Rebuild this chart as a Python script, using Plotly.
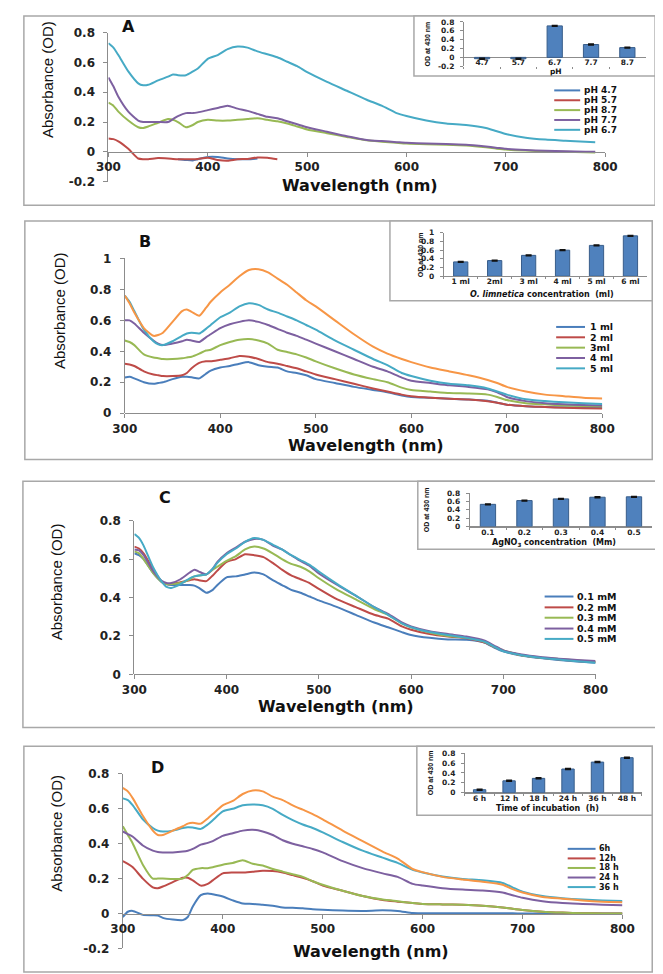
import plotly.graph_objects as go

W, H = 663, 974


def px(x):
    return x / W


def py(y):
    return 1 - y / H


# ---------------- data ----------------
WL = [300, 305, 310, 320, 330, 335, 340, 350, 360, 365, 370, 378, 385, 390, 400, 410, 420, 430, 440, 450,
      460, 470, 480, 490, 500, 520, 540, 560, 575, 590, 600, 620, 640, 660, 680, 690, 700, 720, 740, 760,
      780, 800]
WL_A = [300, 305, 310, 320, 330, 335, 340, 350, 360, 365, 370, 378, 385, 390, 400, 410, 420, 430, 440, 450,
        460, 470, 480, 490, 500, 520, 540, 560, 575, 590, 600, 620, 640, 660, 680, 690, 700, 720, 740, 760,
        780, 790]
N = None

# Panel A (pH)
A_PH47 = [N, N, N, N, N, N, N, N, N, N, -.05, -.055, -.058, -.05, -.035, -.035, -.045, -.05, -.05, -.045,
          N, N, N, N, N, N, N, N, N, N, N, N, N, N, N, N, N, N, N, N, N, N]
A_PH57 = [.09, .085, .07, .02, -.045, -.05, -.05, -.042, -.045, -.048, -.05, -.05, -.05, -.048, -.04, -.055,
          -.06, -.05, -.048, -.038, -.04, -.05, N, N, N, N, N, N, N, N, N, N, N, N, N, N, N, N, N, N, N, N]
A_PH87 = [.33, .31, .27, .21, .165, .16, .17, .195, .22, .215, .20, .165, .18, .20, .215, .21, .21, .215, .22,
          .225, .215, .205, .19, .17, .15, .125, .10, .077, .068, .06, .055, .05, .047, .042, .03, .022, .015,
          .008, .003, 0, -.003, -.005]
A_PH77 = [.50, .44, .37, .27, .21, .20, .20, .20, .20, .22, .24, .26, .26, .265, .28, .295, .31, .29, .275,
          .255, .235, .225, .205, .185, .165, .135, .105, .08, .072, .065, .06, .055, .052, .047, .035, .028,
          .02, .012, .007, .004, .001, 0]
A_PH67 = [.73, .70, .65, .54, .46, .447, .45, .48, .505, .52, .515, .515, .54, .56, .625, .65, .69, .707, .70,
          .675, .655, .635, .605, .575, .535, .47, .41, .35, .31, .26, .24, .21, .19, .18, .16, .14, .12,
          .095, .082, .075, .068, .065]

# Panel B (O. limnetica volume)
B_1ML = [.23, .235, .225, .20, .19, .195, .20, .22, .235, .235, .232, .225, .255, .275, .295, .305, .32, .33,
         .31, .30, .295, .27, .26, .245, .22, .195, .17, .15, .135, .115, .105, .10, .093, .088, .08, .068,
         .055, .045, .04, .038, .036, .035]
B_2ML = [.32, .315, .305, .27, .25, .245, .24, .24, .245, .26, .29, .325, .335, .335, .345, .355, .37, .365,
         .35, .33, .32, .305, .29, .27, .25, .22, .19, .16, .14, .12, .11, .10, .093, .088, .077, .068, .055,
         .045, .04, .035, .032, .03]
B_3ML = [.47, .46, .44, .38, .36, .355, .35, .35, .355, .36, .365, .385, .405, .41, .44, .46, .475, .48, .47,
         .45, .41, .395, .38, .36, .335, .29, .25, .22, .20, .165, .15, .14, .13, .127, .12, .105, .085, .065,
         .057, .05, .047, .045]
B_4ML = [.60, .60, .58, .52, .47, .45, .44, .45, .465, .475, .47, .46, .49, .51, .55, .575, .59, .60, .59,
         .57, .545, .52, .50, .475, .45, .40, .35, .30, .27, .23, .21, .195, .18, .17, .155, .135, .105,
         .078, .065, .058, .053, .05]
B_5ML = [.76, .72, .66, .54, .465, .445, .44, .465, .50, .515, .52, .515, .545, .57, .62, .65, .69, .71, .70,
         .67, .65, .625, .60, .57, .54, .47, .41, .35, .31, .26, .24, .21, .19, .18, .16, .14, .12, .09, .078,
         .07, .065, .06]
B_6ML = [.76, .71, .65, .55, .50, .505, .52, .59, .66, .67, .655, .63, .68, .72, .78, .83, .885, .925, .93,
         .91, .87, .83, .78, .73, .69, .60, .51, .43, .385, .35, .33, .295, .27, .245, .215, .195, .17, .14,
         .12, .11, .10, .095]

# Panel C (AgNO3)
C_01 = [.63, .62, .60, .53, .48, .47, .465, .465, .465, .462, .45, .425, .44, .465, .505, .51, .52, .53, .52,
        .49, .465, .44, .425, .405, .385, .35, .31, .27, .245, .22, .205, .19, .182, .18, .165, .14, .12,
        .097, .085, .075, .067, .06]
C_02 = [.665, .655, .63, .55, .48, .47, .47, .48, .49, .495, .49, .485, .515, .54, .585, .60, .625, .62, .61,
        .58, .545, .515, .495, .475, .445, .39, .35, .31, .29, .25, .232, .21, .197, .188, .165, .143, .123,
        .10, .087, .078, .07, .065]
C_03 = [.64, .63, .60, .53, .48, .47, .47, .475, .495, .51, .515, .52, .545, .56, .59, .615, .65, .665, .655,
        .63, .60, .575, .56, .535, .50, .44, .39, .34, .31, .265, .245, .218, .20, .19, .168, .145, .125,
        .10, .088, .08, .072, .066]
C_04 = [.65, .645, .62, .54, .485, .475, .475, .495, .53, .545, .535, .52, .55, .585, .63, .66, .69, .705, .70,
        .67, .65, .62, .59, .565, .525, .465, .41, .35, .315, .27, .25, .225, .21, .197, .175, .15, .125,
        .103, .09, .082, .075, .07]
C_05 = [.73, .71, .67, .56, .48, .455, .45, .47, .50, .51, .515, .52, .55, .58, .625, .655, .69, .71, .70,
        .675, .65, .62, .595, .57, .535, .47, .41, .35, .31, .265, .245, .22, .205, .19, .17, .145, .12, .10,
        .087, .077, .068, .06]

# Panel D (incubation time)
D_6H = [-.02, .01, .015, -.008, -.01, -.012, -.025, -.035, -.038, -.02, .04, .105, .115, .11, .097, .075,
        .057, .055, .05, .045, .035, .033, .03, .025, .022, .017, .015, .018, .015, .003, .002, .002, .002,
        .001, .001, .001, 0, 0, 0, 0, 0, 0]
D_12H = [.30, .285, .265, .20, .15, .145, .155, .18, .205, .205, .19, .16, .17, .19, .23, .235, .235, .24,
         .245, .243, .235, .22, .205, .185, .16, .13, .10, .077, .068, .06, .055, .052, .05, .045, .035,
         .027, .02, .01, .005, .002, 0, 0]
D_18H = [.50, .45, .40, .28, .20, .20, .20, .198, .20, .22, .25, .26, .26, .265, .28, .29, .305, .285, .275,
         .255, .24, .225, .21, .185, .165, .13, .10, .08, .07, .06, .055, .052, .05, .045, .035, .027, .02,
         .01, .005, .002, 0, 0]
D_24H = [.47, .455, .44, .39, .36, .352, .35, .35, .355, .36, .37, .395, .405, .415, .445, .46, .475, .48,
         .47, .45, .42, .40, .385, .37, .35, .30, .26, .23, .21, .17, .16, .145, .137, .132, .12, .105, .09,
         .07, .06, .055, .05, .047]
D_36H = [.66, .65, .62, .54, .49, .475, .47, .475, .49, .495, .493, .485, .51, .535, .585, .60, .62, .625,
         .62, .60, .565, .535, .51, .49, .465, .41, .36, .32, .29, .25, .235, .212, .198, .19, .175, .15,
         .125, .10, .088, .08, .075, .072]
D_48H = [.72, .70, .66, .56, .475, .45, .45, .475, .50, .515, .52, .515, .545, .57, .62, .645, .685, .705,
         .70, .67, .65, .62, .595, .57, .54, .475, .415, .355, .315, .255, .237, .21, .195, .182, .165, .14,
         .12, .095, .085, .075, .068, .065]

# Inset bar charts: OD at 430 nm
INS_A_CAT = ["4.7", "5.7", "6.7", "7.7", "8.7"]
INS_A_VAL = [-0.03, -0.03, 0.71, 0.29, 0.22]
INS_B_CAT = ["1 ml", "2ml", "3 ml", "4 ml", "5 ml", "6 ml"]
INS_B_VAL = [0.33, 0.36, 0.48, 0.60, 0.71, 0.93]
INS_C_CAT = ["0.1", "0.2", "0.3", "0.4", "0.5"]
INS_C_VAL = [0.53, 0.62, 0.66, 0.70, 0.71]
INS_D_CAT = ["6 h", "12 h", "18 h", "24 h", "36 h", "48 h"]
INS_D_VAL = [0.06, 0.24, 0.29, 0.48, 0.62, 0.71]
INS_ERR = 0.01

X_TICKS = [300, 400, 500, 600, 700, 800]

# ---------------- style ----------------
BLUE, RED, GREEN, PURPLE, CYAN, ORANGE = "#4A7EBB", "#BE4B48", "#98B954", "#7D60A0", "#46AAC5", "#F79646"
AXC = "#8C8C8C"
BOXC = "#A8A8A8"
TXT = "#222222"
BOLD = "DejaVu Sans"
NARROW = "Liberation Sans Narrow, Arial Narrow, Liberation Sans, sans-serif"

fig = go.Figure()

panels = [
    dict(n=1, wl=WL_A, series=[("pH 4.7", A_PH47, BLUE), ("pH 5.7", A_PH57, RED), ("pH 8.7", A_PH87, GREEN),
                               ("pH 7.7", A_PH77, PURPLE), ("pH 6.7", A_PH67, CYAN)],
         legend_n=5, xd=(91, 608), yd=(18, 169), yr=(-0.2, 0.8), zero=139,
         yt=[-0.2, 0, 0.2, 0.4, 0.6, 0.8], ytt=["-0.2", "0", "0.2", "0.4", "0.6", "0.8"],
         box=(3, 1, 660, 193), letter=("A", 112, 12), xt=(353, 173), ytl=(27, 65),
         leg=(555, 582, 584, [76.5, 86.5, 96.5, 106.5, 116.5], 9)),
    dict(n=2, wl=WL, series=[("1 ml", B_1ML, BLUE), ("2 ml", B_2ML, RED), ("3ml", B_3ML, GREEN),
                             ("4 ml", B_4ML, PURPLE), ("5 ml", B_5ML, CYAN), ("6 ml", B_6ML, ORANGE)],
         legend_n=5, xd=(108, 605), yd=(247, 404), yr=(0, 1), zero=404,
         yt=[0, 0.2, 0.4, 0.6, 0.8, 1], ytt=["0", "0.2", "0.4", "0.6", "0.8", "1"],
         box=(4, 209, 657, 451), letter=("B", 129, 230), xt=(359, 437), ytl=(40, 300),
         leg=(557, 587, 590, [316.5, 327, 337.5, 348, 358.5], 9.5)),
    dict(n=3, wl=WL, series=[("0.1 mM", C_01, BLUE), ("0.2 mM", C_02, RED), ("0.3 mM", C_03, GREEN),
                             ("0.4 mM", C_04, PURPLE), ("0.5 mM", C_05, CYAN)],
         legend_n=5, xd=(118, 598), yd=(513, 669), yr=(0, 0.8), zero=669,
         yt=[0, 0.2, 0.4, 0.6, 0.8], ytt=["0", "0.2", "0.4", "0.6", "0.8"],
         box=(2, 473, 661, 723), letter=("C", 150, 490), xt=(328, 702), ytl=(37, 575),
         leg=(545, 575, 577, [590, 601, 611.5, 622.5, 633], 9.5)),
    dict(n=4, wl=WL, series=[("6h", D_6H, BLUE), ("12h", D_12H, RED), ("18 h", D_18H, GREEN),
                             ("24 h", D_24H, PURPLE), ("36 h", D_36H, CYAN), ("48 h", D_48H, ORANGE)],
         legend_n=5, xd=(106, 626), yd=(770, 947), yr=(-0.2, 0.8), zero=912,
         yt=[-0.2, 0, 0.2, 0.4, 0.6, 0.8], ytt=["-0.2", "0", "0.2", "0.4", "0.6", "0.8"],
         box=(3, 742, 657, 971), letter=("D", 142, 763), xt=(364, 950), ytl=(36, 830),
         leg=(569, 598, 600, [846, 855.7, 865.4, 875.1, 884.8], 8)),
]

insets = [
    dict(n=5, cats=INS_A_CAT, vals=INS_A_VAL, xd=(461, 650), yd=(7, 52), yr=(-0.2, 0.8),
         yt=[-0.2, 0, 0.2, 0.4, 0.6, 0.8], ytt=["-0.2", "0", "0.2", "0.4", "0.6", "0.8"],
         box=(409, 1, 660, 62), title="pH", title_xy=(557, 57.5), ytitle_x=423, xline=False, stand=-10),
    dict(n=6, cats=INS_B_CAT, vals=INS_B_VAL, xd=(440, 652), yd=(221, 265), yr=(0, 1),
         yt=[0, 0.2, 0.4, 0.6, 0.8, 1], ytt=["0", "0.2", "0.4", "0.6", "0.8", "1"],
         box=(384, 209, 657, 290), title="<i>O. limnetica</i> concentration  (ml)", title_xy=(542, 284),
         ytitle_x=416, xline=True, stand=-2),
    dict(n=7, cats=INS_C_CAT, vals=INS_C_VAL, xd=(467, 657), yd=(485, 519), yr=(0, 0.8),
         yt=[0, 0.2, 0.4, 0.6, 0.8], ytt=["0", "0.2", "0.4", "0.6", "0.8"],
         box=(413, 473, 661, 542), title="AgNO<sub>3</sub> concentration  (Mm)", title_xy=(555, 535.5),
         ytitle_x=422, xline=True, stand=-2),
    dict(n=8, cats=INS_D_CAT, vals=INS_D_VAL, xd=(462, 646), yd=(749, 789), yr=(0, 0.8),
         yt=[0, 0.2, 0.4, 0.6, 0.8], ytt=["0", "0.2", "0.4", "0.6", "0.8"],
         box=(412, 742, 657, 812), title="Time of incubation  (h)", title_xy=(548, 805.5),
         ytitle_x=427, xline=True, stand=-2),
]

layout = dict(width=W, height=H, margin=dict(l=0, r=0, t=0, b=0), paper_bgcolor="white",
              plot_bgcolor="rgba(0,0,0,0)", showlegend=False)
shapes, annotations = [], []


def ax_name(kind, n):
    return f"{kind}axis" if n == 1 else f"{kind}axis{n}"


def ref(kind, n):
    return kind if n == 1 else f"{kind}{n}"


for p in panels:
    n = p["n"]
    for name, vals, col in p["series"]:
        fig.add_trace(go.Scatter(x=p["wl"], y=vals, name=name, mode="lines",
                                 line=dict(color=col, width=2, shape="spline", smoothing=0.6),
                                 xaxis=ref("x", n), yaxis=ref("y", n), connectgaps=False, hoverinfo="skip"))
    layout[ax_name("x", n)] = dict(
        domain=[px(p["xd"][0]), px(p["xd"][1])], range=[300, 800], anchor="free", position=py(p["zero"]),
        showline=True, linecolor=AXC, linewidth=1, ticks="outside", ticklen=4, tickcolor=AXC,
        tickvals=X_TICKS, tickfont=dict(family=BOLD, size=12, color=TXT, weight="bold"),
        showgrid=False, zeroline=False, fixedrange=True)
    layout[ax_name("y", n)] = dict(
        domain=[py(p["yd"][1]), py(p["yd"][0])], range=list(p["yr"]), anchor=ref("x", n),
        showline=True, linecolor=AXC, linewidth=1, ticks="outside", ticklen=4, tickcolor=AXC,
        tickvals=p["yt"], ticktext=p["ytt"], ticklabelstandoff=6,
        tickfont=dict(family=BOLD, size=12, color=TXT, weight="bold"),
        showgrid=False, zeroline=False, fixedrange=True)
    x0, y0, x1, y1 = p["box"]
    shapes.append(dict(type="rect", xref="paper", yref="paper", x0=px(x0), x1=px(x1), y0=py(y1), y1=py(y0),
                       line=dict(color=BOXC, width=1.5), layer="below"))
    lt, lx, ly = p["letter"]
    annotations.append(dict(text=lt, x=px(lx), y=py(ly), xref="paper", yref="paper", showarrow=False,
                            xanchor="center", yanchor="middle",
                            font=dict(family=BOLD, size=16, color="#111", weight="bold")))
    annotations.append(dict(text="Wavelength (nm)", x=px(p["xt"][0]), y=py(p["xt"][1]), xref="paper",
                            yref="paper", showarrow=False, xanchor="center", yanchor="middle",
                            font=dict(family=BOLD, size=16, color="#111", weight="bold")))
    annotations.append(dict(text="Absorbance (OD)", x=px(p["ytl"][0]), y=py(p["ytl"][1]), xref="paper",
                            yref="paper", showarrow=False, xanchor="center", yanchor="middle", textangle=-90,
                            font=dict(family=NARROW, size=15, color="#111")))
    lx0, lx1, tx, rows, lfs = p["leg"]
    for (name, vals, col), ry in zip(p["series"][:p["legend_n"]], rows):
        shapes.append(dict(type="line", xref="paper", yref="paper", x0=px(lx0), x1=px(lx1), y0=py(ry),
                           y1=py(ry), line=dict(color=col, width=2)))
        annotations.append(dict(text=name, x=px(tx), y=py(ry), xref="paper", yref="paper", showarrow=False,
                                xanchor="left", yanchor="middle",
                                font=dict(family=BOLD, size=lfs, color="#111", weight="bold")))

for s in insets:
    n = s["n"]
    fig.add_trace(go.Bar(x=s["cats"], y=s["vals"], marker=dict(color="#4F81BD", line=dict(color="#385D8A", width=1)),
                         error_y=dict(type="constant", value=INS_ERR, color="#111", thickness=1.5, width=3),
                         xaxis=ref("x", n), yaxis=ref("y", n), hoverinfo="skip"))
    layout[ax_name("x", n)] = dict(
        domain=[px(s["xd"][0]), px(s["xd"][1])], anchor=ref("y", n), type="category",
        showline=s["xline"], linecolor=AXC, linewidth=1, ticks="outside", tickson="boundaries", ticklen=2,
        tickcolor=AXC, tickfont=dict(family=BOLD, size=7.5, color=TXT, weight="bold"), showgrid=False,
        ticklabelstandoff=s["stand"], fixedrange=True)
    layout[ax_name("y", n)] = dict(
        domain=[py(s["yd"][1]), py(s["yd"][0])], range=list(s["yr"]), anchor=ref("x", n),
        showline=True, linecolor=AXC, linewidth=1, ticks="outside", ticklen=3, tickcolor=AXC,
        tickvals=s["yt"], ticktext=s["ytt"], ticklabelstandoff=4,
        tickfont=dict(family=BOLD, size=7.5, color=TXT, weight="bold"),
        showgrid=False, zeroline=True, zerolinecolor=AXC, zerolinewidth=1, fixedrange=True)
    x0, y0, x1, y1 = s["box"]
    shapes.append(dict(type="rect", xref="paper", yref="paper", x0=px(x0), x1=px(x1), y0=py(y1), y1=py(y0),
                       line=dict(color=BOXC, width=1.5), fillcolor="white", layer="below"))
    annotations.append(dict(text=s["title"], x=px(s["title_xy"][0]), y=py(s["title_xy"][1]), xref="paper",
                            yref="paper", showarrow=False, xanchor="center", yanchor="middle",
                            font=dict(family=BOLD, size=7.5 if n == 5 else 8, color="#111", weight="bold")))
    annotations.append(dict(text="OD at 430 nm", x=px(s["ytitle_x"]),
                            y=py((s["yd"][0] + s["yd"][1]) / 2), xref="paper", yref="paper", showarrow=False,
                            xanchor="center", yanchor="middle", textangle=-90,
                            font=dict(family=NARROW, size=7, color="#111", weight="bold")))

layout["shapes"] = shapes
layout["annotations"] = annotations
layout["bargap"] = 0.58
fig.update_layout(**layout)
fig.write_html("out.html")
